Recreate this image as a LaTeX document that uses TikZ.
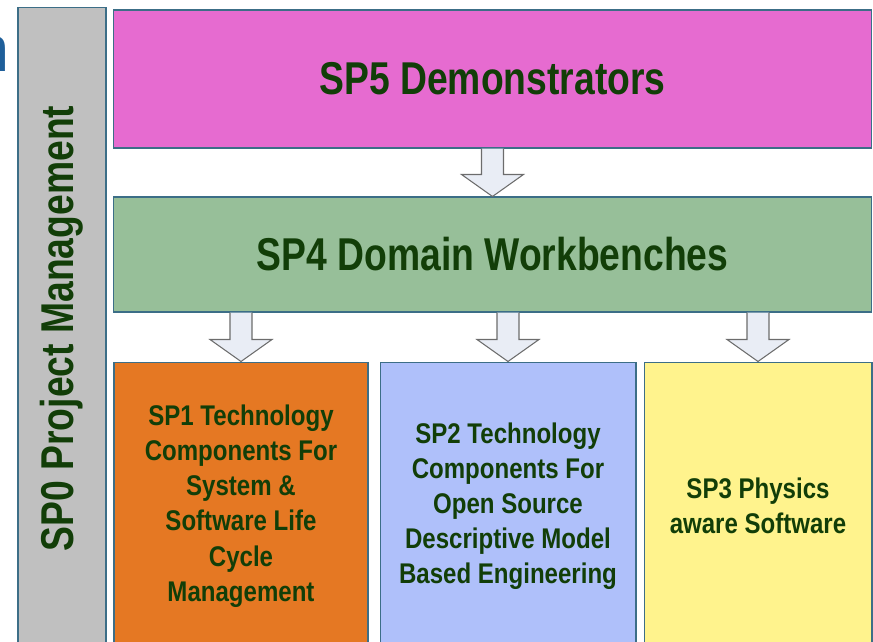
\documentclass[tikz,border=0pt]{standalone}
\usepackage{fontspec}
\setmainfont{Liberation Sans}
\newfontfamily\narrowsans[FakeStretch=0.81]{Liberation Sans}
\newfontfamily\boxsans[FakeStretch=0.845]{Liberation Sans}
\usetikzlibrary{calc}

\definecolor{edge}{RGB}{60,110,135}
\definecolor{txt}{RGB}{18,62,8}
\definecolor{headcol}{RGB}{31,95,154}
\definecolor{sp0col}{RGB}{192,192,192}
\definecolor{sp5col}{RGB}{230,107,208}
\definecolor{sp4col}{RGB}{151,191,153}
\definecolor{sp1col}{RGB}{229,120,35}
\definecolor{sp2col}{RGB}{175,192,250}
\definecolor{sp3col}{RGB}{255,243,141}
\definecolor{arrfill}{RGB}{233,237,245}

\tikzset{
  spbox/.style={draw=edge, line width=0.6pt, text=txt, inner sep=0pt, align=center},
  bigtxt/.style={font=\narrowsans\fontsize{26.2}{30}\selectfont\bfseries},
  smalltxt/.style={font=\boxsans\fontsize{16.2}{20}\selectfont\bfseries},
  blockarr/.style={draw=gray!85!black, fill=arrfill, line width=0.6pt}
}

\begin{document}
\begin{tikzpicture}[x=0.02cm, y=-0.02cm]
\useasboundingbox (0,0) rectangle (873,642);

% cut off heading letter
\node[anchor=base east, text=headcol, font=\fontsize{37}{40}\selectfont, inner sep=0pt] (cut) at (10,72) {n};

% management bar
\node[spbox, bigtxt, fill=sp0col, rotate=90, minimum width=12.86cm, minimum height=1.76cm] (sp0) at (62,328.5) {SP0 Project Management};

% top rows
\node[spbox, bigtxt, fill=sp5col, minimum width=15.18cm, minimum height=2.76cm] (sp5) at (492.5,79) {SP5 Demonstrators};
\node[spbox, bigtxt, fill=sp4col, minimum width=15.18cm, minimum height=2.3cm] (sp4) at (492.5,254.5) {SP4 Domain Workbenches};

% bottom row
\node[spbox, smalltxt, fill=sp1col, minimum width=5.08cm, minimum height=5.76cm] (sp1) at (241,506) {SP1 Technology\\Components For\\System \&\\Software Life\\Cycle\\Management};
\node[spbox, smalltxt, fill=sp2col, minimum width=5.12cm, minimum height=5.76cm] (sp2) at (508,506) {SP2 Technology\\Components For\\Open Source\\Descriptive Model\\Based Engineering};
\node[spbox, smalltxt, fill=sp3col, minimum width=4.56cm, minimum height=5.76cm] (sp3) at (758,506) {SP3 Physics\\aware Software};

% block arrows
\foreach \a/\b in {sp5/sp4, sp4/sp1, sp4/sp2, sp4/sp3} {
\draw[blockarr] ($(\b.north |- \a.south)+(-11,0)$) -- ($(\b.north)+(-11,-22)$) -- ($(\b.north)+(-31,-22)$) -- (\b.north) -- ($(\b.north)+(31,-22)$) -- ($(\b.north)+(11,-22)$) -- ($(\b.north |- \a.south)+(11,0)$);
}

\end{tikzpicture}
\end{document}
